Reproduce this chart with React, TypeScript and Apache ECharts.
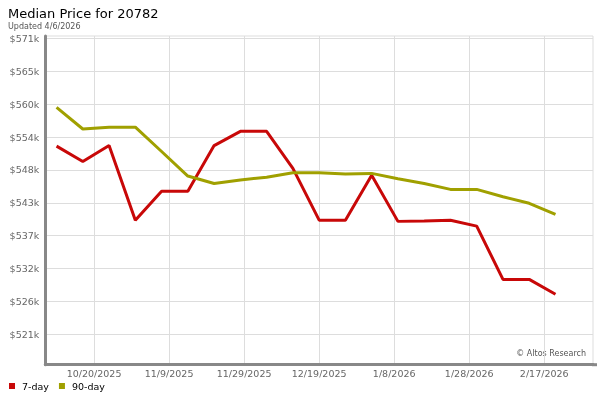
import React, { useEffect, useRef } from "react";
import * as echarts from "echarts";

const dates = [
  "2025-10-10", "2025-10-17", "2025-10-24", "2025-10-31", "2025-11-07",
  "2025-11-14", "2025-11-21", "2025-11-28", "2025-12-05", "2025-12-12",
  "2025-12-19", "2025-12-26", "2026-01-02", "2026-01-09", "2026-01-16",
  "2026-01-23", "2026-01-30", "2026-02-06", "2026-02-13", "2026-02-20",
];

const sevenDay = [
  552900, 550300, 553000, 540400, 545300, 545300, 553000, 555400, 555400, 549150,
  540400, 540400, 548000, 540200, 540250, 540400, 539400, 530400, 530400, 527900,
];

const ninetyDay = [
  559450, 555800, 556100, 556100, 552000, 547850, 546600, 547200, 547650, 548400,
  548400, 548200, 548300, 547400, 546600, 545600, 545600, 544350, 543250, 541400,
];

const xTickDates = [
  "2025-10-20", "2025-11-09", "2025-11-29", "2025-12-19", "2026-01-08", "2026-01-28", "2026-02-17",
];

const yTickValues = [
  521111, 526667, 532222, 537778, 543333, 548889, 554444, 560000, 565556, 571111,
];

const xRange = ["2025-10-07", "2026-03-02"];
const yRange = [516000, 571500];

const toTs = (s: string) => {
  const [y, m, d] = s.split("-").map(Number);
  return Date.UTC(y, m - 1, d);
};

const FONT = "DejaVu Sans";

export default function App() {
  const ref = useRef<HTMLDivElement>(null);
  useEffect(() => {
    if (!ref.current) return;
    const chart = echarts.init(ref.current, null, { renderer: "svg" });
    chart.setOption({
      animation: false,
      textStyle: { fontFamily: FONT },
      title: {
        text: "Median Price for 20782",
        subtext: "Updated 4/6/2026",
        left: 3,
        top: 2,
        itemGap: 2,
        textStyle: { fontFamily: FONT, fontSize: 13, fontWeight: "normal", color: "#000" },
        subtextStyle: { fontFamily: FONT, fontSize: 8, color: "#555" },
      },
      legend: {
        left: 4,
        top: 376,
        icon: "rect",
        itemWidth: 6,
        itemHeight: 6,
        itemGap: 10,
        textStyle: { fontFamily: FONT, fontSize: 9.5, color: "#000", padding: [0, 0, 0, 2] },
        data: ["7-day", "90-day"],
      },
      grid: {
        left: 45.3,
        right: 7,
        top: 36,
        bottom: 35.3,
        show: true,
        borderColor: "#dddddd",
        borderWidth: 1,
      },
      xAxis: {
        type: "value",
        min: toTs(xRange[0]),
        max: toTs(xRange[1]),
        axisLine: { show: true, lineStyle: { color: "#888888", width: 3 } },
        axisTick: { show: false, customValues: xTickDates.map(toTs) },
        splitLine: { show: true, lineStyle: { color: "#dddddd", width: 1 } },
        axisLabel: {
          customValues: xTickDates.map(toTs),
          fontFamily: FONT,
          fontSize: 9.5,
          color: "#666",
          margin: 4,
          formatter: (v: number) => {
            const d = new Date(v);
            return `${d.getUTCMonth() + 1}/${d.getUTCDate()}/${d.getUTCFullYear()}`;
          },
        },
      },
      yAxis: {
        type: "value",
        min: yRange[0],
        max: yRange[1],
        axisLine: { show: true, lineStyle: { color: "#888888", width: 3 } },
        axisTick: { show: false, customValues: yTickValues },
        splitLine: { show: true, lineStyle: { color: "#dddddd", width: 1 } },
        axisLabel: {
          customValues: yTickValues,
          fontFamily: FONT,
          fontSize: 9.5,
          color: "#666",
          margin: 6,
          formatter: (v: number) => `$${Math.floor(v / 1000)}k`,
        },
      },
      graphic: [
        {
          type: "text",
          right: 14,
          top: 349,
          style: { text: "© Altos Research", font: `8px "${FONT}"`, fill: "#555" },
        },
        {
          type: "rect",
          left: 592,
          top: 363.2,
          shape: { width: 5, height: 3 },
          style: { fill: "#888888" },
        },
      ],
      series: [
        {
          name: "7-day",
          type: "line",
          symbol: "none",
          color: "#c80808",
          lineStyle: { width: 3, color: "#c80808" },
          data: dates.map((d, i) => [toTs(d), sevenDay[i]]),
        },
        {
          name: "90-day",
          type: "line",
          symbol: "none",
          color: "#a0a000",
          lineStyle: { width: 3, color: "#a0a000" },
          data: dates.map((d, i) => [toTs(d), ninetyDay[i]]),
        },
      ],
    });
    return () => chart.dispose();
  }, []);
  return <div ref={ref} style={{ width: 600, height: 400, position: "fixed", left: 0, top: 0 }} />;
}
